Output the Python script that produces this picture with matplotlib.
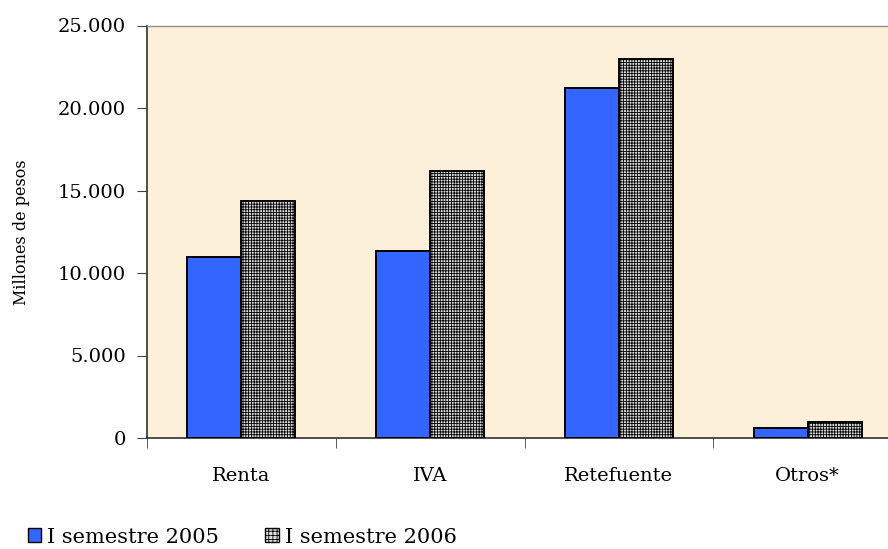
import matplotlib
matplotlib.use("Agg")
import matplotlib.pyplot as plt
from matplotlib.patches import Patch
import numpy as np

categories = ["Renta", "IVA", "Retefuente", "Otros*"]
sem_2005 = [10960, 11320, 21190, 610]
sem_2006 = [14350, 16160, 22940, 970]
series_labels = ["I semestre 2005", "I semestre 2006"]
yticks = [0, 5000, 10000, 15000, 20000, 25000]
ytick_labels = ["0", "5.000", "10.000", "15.000", "20.000", "25.000"]

BLUE = "#3366FF"
BG = "#FCF0D9"
FONT = "DejaVu Serif"

plt.rcParams["font.family"] = FONT
plt.rcParams["hatch.linewidth"] = 0.6
plt.rcParams["hatch.color"] = "#444444"

fig = plt.figure(figsize=(8.88, 5.49), dpi=100)
ax = fig.add_axes([147 / 888, 111 / 549, 755 / 888, 412.5 / 549])
ax.set_facecolor(BG)

x = np.arange(len(categories))
w = 0.286
ax.bar(x - w / 2, sem_2005, w, color=BLUE, edgecolor="black", linewidth=1.4, zorder=3)
ax.bar(x + w / 2, sem_2006, w, color="#dcdcdc", edgecolor="black", linewidth=1.4,
       hatch="++++++", zorder=3)

ax.set_xlim(-0.5, 3.5)
ax.set_ylim(0, 25000)
ax.set_yticks(yticks, ytick_labels, fontsize=14)
ax.set_xticks(x, categories, fontsize=14)
ax.tick_params(axis="x", which="major", length=0, pad=21)
ax.set_xticks([-0.5, 0.5, 1.5, 2.5], minor=True)
ax.tick_params(axis="x", which="minor", length=7, color="#404040")
ax.tick_params(axis="y", length=7, pad=8, color="#404040")

ax.spines["right"].set_visible(False)
ax.spines["top"].set_color("#909090")
ax.spines["top"].set_linewidth(1.0)
ax.spines["left"].set_color("#303030")
ax.spines["bottom"].set_color("#303030")
ax.spines["left"].set_linewidth(1.2)
ax.spines["bottom"].set_linewidth(1.2)

ax.set_ylabel("Millones de pesos", fontsize=11.5, labelpad=20)

handles = [
    Patch(facecolor=BLUE, edgecolor="black", linewidth=1.0),
    Patch(facecolor="#dcdcdc", edgecolor="black", linewidth=1.0, hatch="++++"),
]
fig.legend(handles, series_labels, loc="lower left", bbox_to_anchor=(0.01, -0.03),
           ncol=2, frameon=False, fontsize=15, handlelength=0.65, handleheight=0.65,
           handletextpad=0.3, columnspacing=2.2)

fig.savefig("out.png", dpi=100)
